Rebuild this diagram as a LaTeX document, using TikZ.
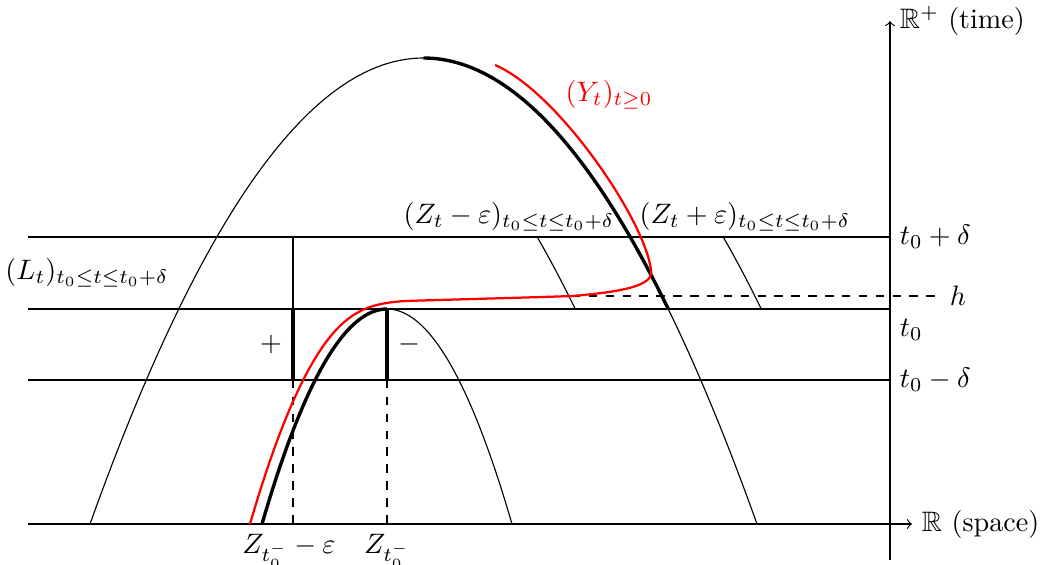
\documentclass[tikz,border=0pt]{standalone}
\usepackage{amssymb}
\usetikzlibrary{calc}

\begin{document}
\begin{tikzpicture}[x=0.125mm,y=-0.125mm,
  declare function={zb(\x)=524-466*(1-((\x-423.5)/333.5)^2);
                    zs(\x)=524-215*(1-((\x-387)/125)^2);},
  traj/.style={very thick},
  ypath/.style={red,thick}]
  \useasboundingbox (0,0) rectangle (1053,564);
  % axes
  \draw[->] (28,524) -- (912,524) node[right] (xlab) {$\mathbb{R}$ (space)};
  \draw[->] (890,560) -- (890,21) node[right] (ylab) {$\mathbb{R}^+$ (time)};
  % time levels
  \draw (28,237) -- (890,237) node[right] (tp) {$t_0+\delta$};
  \draw (28,309) -- (890,309) node[below right] (tz) {$t_0$};
  \draw (28,380) -- (890,380) node[right] (tm) {$t_0-\delta$};
  \draw[dashed] (572,296) -- (940,296) node[right] (hl) {$h$};
  % the two parabolas
  \draw plot[domain=90:757,samples=120] (\x,{zb(\x)});
  \draw[traj] plot[domain=423.5:668.3,samples=60] (\x,{zb(\x)});
  \draw plot[domain=262:512,samples=80] (\x,{zs(\x)});
  \draw[traj] plot[domain=262:387,samples=60] (\x,{zs(\x)});
  % shifted by epsilon
  \draw plot[domain=537.2:575.3,samples=10] (\x,{zb(\x+93)});
  \draw plot[domain=723.2:761.3,samples=10] (\x,{zb(\x-93)});
  % L between t0 and t0+delta
  \draw (293,237) -- (293,309);
  \draw[traj] (293,309) -- (293,380) node[midway,left] (pl) {$+$};
  \draw[traj] (387,309) -- (387,380) node[midway,right] (mi) {$-$};
  \draw[dashed] (293,380) -- (293,524);
  \draw[dashed] (387,380) -- (387,524);
  \node[below] (zeps) at (289,524) {$Z_{t_0^-}-\varepsilon$};
  \node[below] (zt) at (387,524) {$Z_{t_0^-}$};
  % Y
  \draw[ypath] plot[domain=250:345,samples=40] (\x,{zs(\x+12)})
    .. controls (358,310.6) and (372,303) .. (405,301)
    .. controls (470,299) and (530,297.5) .. (572,296)
    .. controls (620,292) and (655,286) .. (651,270)
    .. controls (645,220) and (558,92) .. (495,65);
  % labels
  \node (Lt) at (87,273) {$(L_t)_{t_0\le t\le t_0+\delta}$};
  \node (Zm) at (509,217) {$(Z_t-\varepsilon)_{t_0\le t\le t_0+\delta}$};
  \node (Zp) at (745,217) {$(Z_t+\varepsilon)_{t_0\le t\le t_0+\delta}$};
  \node[red] (Yt) at (609,95) {$(Y_t)_{t\ge0}$};
\end{tikzpicture}
\end{document}
